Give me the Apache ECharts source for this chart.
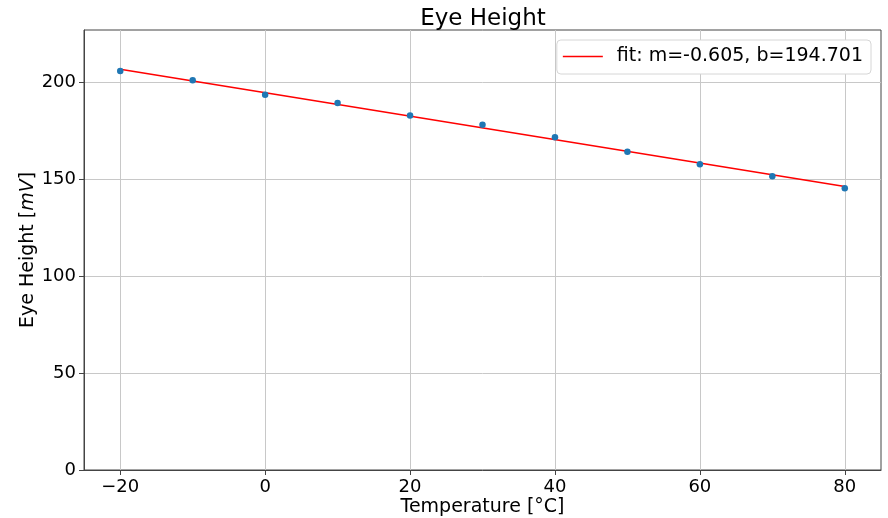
<!DOCTYPE html>
<html><head><meta charset="utf-8">
<script src="https://cdn.jsdelivr.net/npm/echarts@6/dist/echarts.min.js"></script>
<style>html,body{margin:0;padding:0;background:#fff}#c{width:888px;height:518px}</style>
</head><body><div id="c"></div>
<script>
const temps = [-20, -10, 0, 10, 20, 30, 40, 50, 60, 70, 80];
const eyeHeight = [205.9, 201.1, 193.6, 189.4, 182.9, 178.1, 171.7, 164.2, 157.7, 151.6, 145.3];
const fitX = [-20, 80];
const fitY = [206.8, 146.3];
const xTicks = [-20, 0, 20, 40, 60, 80];
const yTicks = [0, 50, 100, 150, 200];
const fitLabel = 'fit: m=-0.605, b=194.701';

const FONT = 'DejaVu Sans';
const minus = v => String(v).replace('-', '\u2212');
const chart = echarts.init(document.getElementById('c'), null, {renderer: 'canvas'});
chart.setOption({
  animation: false,
  backgroundColor: '#fff',
  textStyle: {fontFamily: FONT},
  title: {
    text: 'Eye Height', left: 478, top: 3, textAlign: 'center',
    textStyle: {fontFamily: FONT, fontSize: 23, fontWeight: 'normal', color: '#000'}
  },
  grid: {left: 84, right: 7, top: 30, bottom: 48, outerBoundsMode: 'none', containLabel: false,
         show: true, borderColor: '#444', borderWidth: 1, backgroundColor: 'transparent'},
  legend: {
    right: 17, top: 40, data: [{name: fitLabel, icon: 'rect'}],
    backgroundColor: '#fff', borderColor: '#d6d6d6', borderWidth: 1, borderRadius: 4,
    padding: [7, 8, 8, 6], itemWidth: 40, itemHeight: 1.5, itemGap: 10,
    textStyle: {fontFamily: FONT, fontSize: 19, color: '#000', padding: [0, 0, 0, 9]}
  },
  xAxis: {
    type: 'value', min: -25, max: 85,
    name: 'Temperature [°C]', nameLocation: 'middle', nameGap: 28, nameMoveOverlap: false,
    nameTextStyle: {fontFamily: FONT, fontSize: 19, color: '#000'},
    axisLine: {show: true, onZero: false, lineStyle: {color: '#444', width: 1}},
    axisTick: {show: true, customValues: xTicks, length: 5, lineStyle: {color: '#444'}},
    axisLabel: {customValues: xTicks, fontFamily: FONT, fontSize: 18, color: '#000', margin: 8, formatter: minus},
    splitLine: {show: true, lineStyle: {color: '#c8c8c8', width: 1}}
  },
  yAxis: {
    type: 'value', min: 0, max: 227, interval: 50,
    name: 'Eye Height [{i|mV}]', nameLocation: 'middle', nameGap: 46, nameMoveOverlap: false,
    nameTextStyle: {fontFamily: FONT, fontSize: 19, color: '#000', rich: {i: {fontFamily: FONT, fontSize: 19, fontStyle: 'italic', color: '#000'}}},
    axisLine: {show: true, onZero: false, lineStyle: {color: '#444', width: 1}},
    axisTick: {show: true, customValues: yTicks, length: 5, lineStyle: {color: '#444'}},
    axisLabel: {customValues: yTicks, fontFamily: FONT, fontSize: 18, color: '#000', margin: 8},
    splitLine: {show: true, lineStyle: {color: '#c8c8c8', width: 1}}
  },
  series: [
    {
      name: 'data', type: 'scatter', symbolSize: 6.5,
      itemStyle: {color: '#1f77b4', opacity: 1},
      data: temps.map((t, i) => [t, eyeHeight[i]]), z: 3
    },
    {
      name: fitLabel, type: 'line', symbol: 'none',
      lineStyle: {color: '#ff0000', width: 1.5}, itemStyle: {color: '#ff0000'},
      data: fitX.map((t, i) => [t, fitY[i]]), z: 2
    }
  ]
});
</script></body></html>
